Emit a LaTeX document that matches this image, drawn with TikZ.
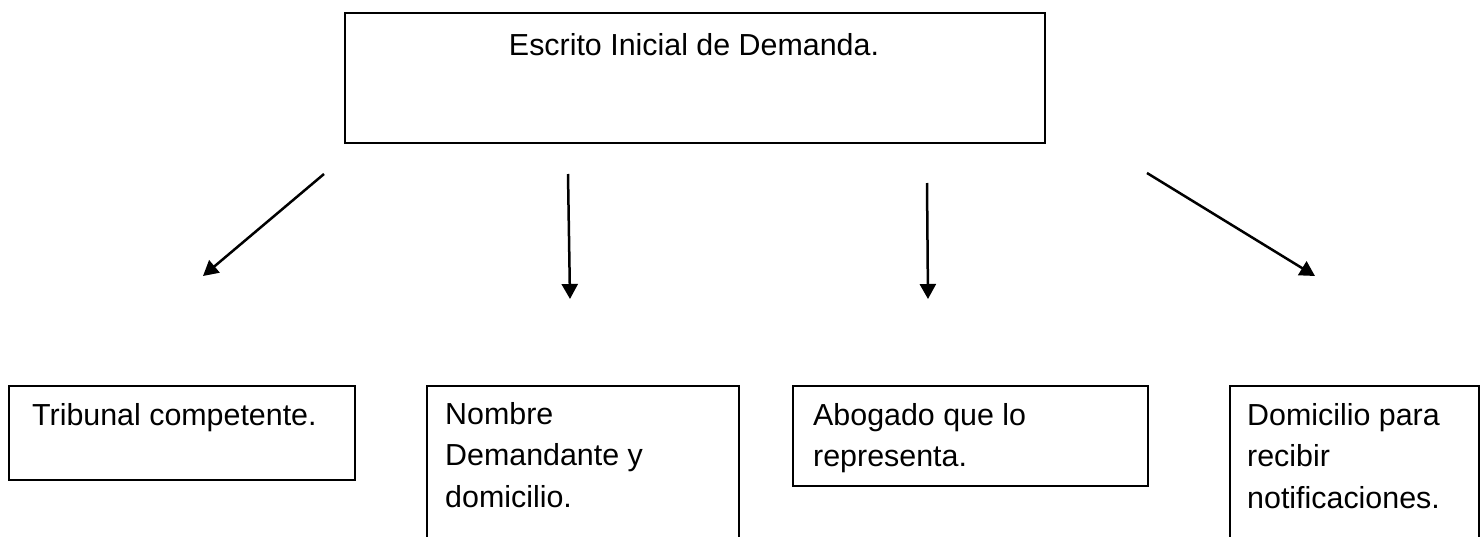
\documentclass[tikz,border=0pt]{standalone}
\usepackage{fontspec}
\setmainfont{Liberation Sans}
\usetikzlibrary{arrows.meta}
\begin{document}
\begin{tikzpicture}[x=1pt,y=-1pt,
  boxnode/.style={draw=black,line width=1.8pt,rectangle,inner sep=0pt,anchor=north west},
  txt/.style={inner sep=0pt,align=left,font=\fontsize{30.4}{41.5}\selectfont},
  arr/.style={line width=2.5pt,-{Triangle[length=15pt,width=16pt]}}]
\useasboundingbox (0,0) rectangle (1484,536);
\clip (0,0) rectangle (1484,536);
\fill[white] (0,0) rectangle (1484,536);
% top box
\node[boxnode,minimum width=700pt,minimum height=130pt] (top) at (344,12) {};
\node[txt,anchor=base] (toptxt) at (694,55) {Escrito Inicial de Demanda.};
% bottom boxes
\node[boxnode,minimum width=346pt,minimum height=94pt] (b1) at (8,385) {};
\node[txt,anchor=north west] (t1) at (32,402.8) {Tribunal competente.};
\node[boxnode,minimum width=312pt,minimum height=160pt] (b2) at (426,385) {};
\node[txt,anchor=north west] (t2) at (445,401.8) {Nombre\\Demandante y\\domicilio.};
\node[boxnode,minimum width=355pt,minimum height=100pt] (b3) at (792,385) {};
\node[txt,anchor=north west] (t3) at (813,402.8) {Abogado que lo\\representa.};
\node[boxnode,minimum width=249pt,minimum height=160pt] (b4) at (1229,385) {};
\node[txt,anchor=north west] (t4) at (1247,402.8) {Domicilio para\\recibir\\notificaciones.};
% arrows
\coordinate (s1) at (324,174); \coordinate (e1) at (203,276);
\coordinate (s2) at (568,174); \coordinate (e2) at (570,299);
\coordinate (s3) at (927,183); \coordinate (e3) at (928,299);
\coordinate (s4) at (1147,173); \coordinate (e4) at (1315,276);
\draw[arr] (s1) -- (e1);
\draw[arr] (s2) -- (e2);
\draw[arr] (s3) -- (e3);
\draw[arr] (s4) -- (e4);
\end{tikzpicture}
\end{document}
